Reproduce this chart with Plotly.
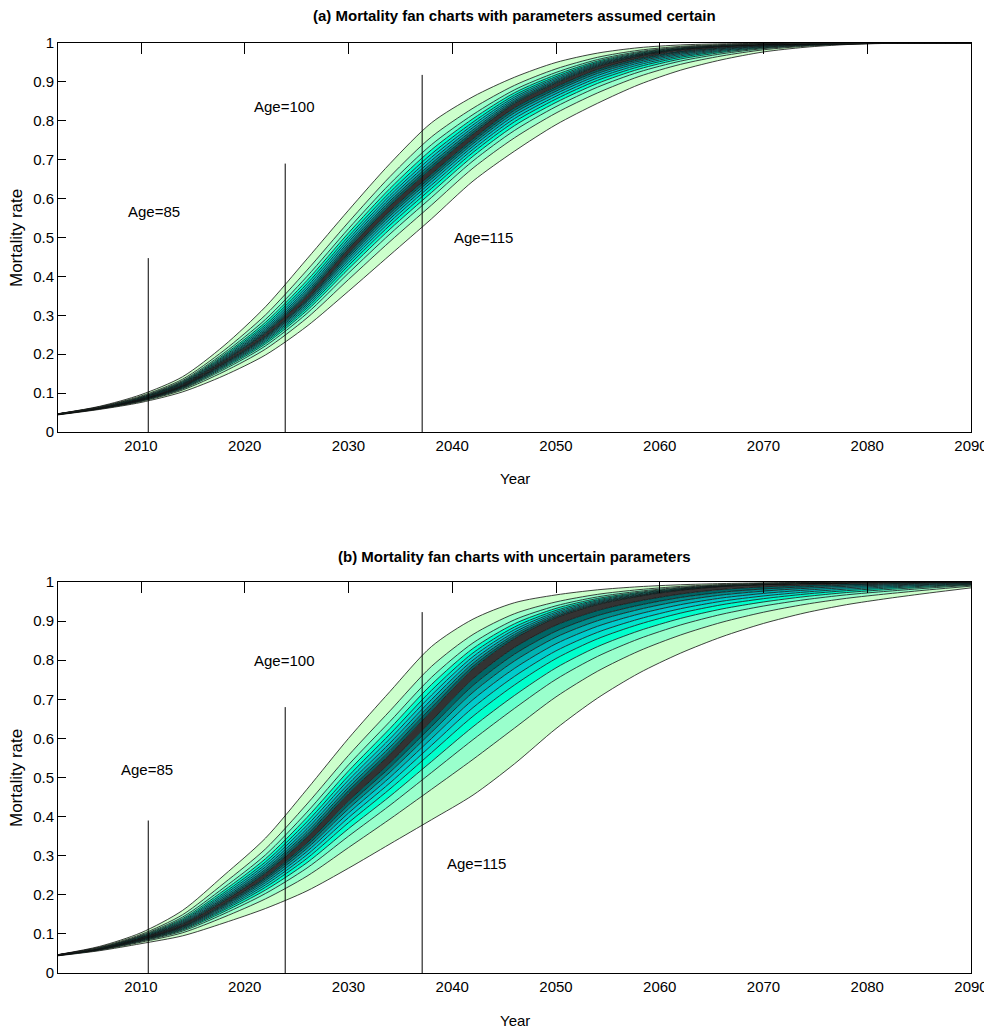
import plotly.graph_objects as go

# ---------------- data ----------------
years = [2002, 2006, 2010, 2014, 2018, 2022, 2026, 2030, 2034, 2038, 2042, 2046,
         2050, 2054, 2058, 2062, 2066, 2070, 2074, 2078, 2082, 2086, 2090]

# panel (a): parameters assumed certain
a_median = [0.046, 0.062, 0.084, 0.120, 0.180, 0.250, 0.345, 0.465, 0.575, 0.670, 0.760, 0.840,
            0.893, 0.937, 0.965, 0.982, 0.991, 0.996, 0.998, 0.999, 1.000, 1.000, 1.000]
a_upper = [0.047, 0.066, 0.096, 0.142, 0.222, 0.322, 0.445, 0.570, 0.690, 0.795, 0.862, 0.912,
           0.950, 0.974, 0.988, 0.995, 0.998, 0.999, 1.000, 1.000, 1.000, 1.000, 1.000]
a_lower = [0.044, 0.058, 0.076, 0.103, 0.145, 0.198, 0.272, 0.362, 0.455, 0.548, 0.645, 0.722,
           0.790, 0.845, 0.893, 0.930, 0.957, 0.977, 0.989, 0.996, 0.999, 1.000, 1.000]

# panel (b): uncertain parameters
b_median = [0.046, 0.062, 0.088, 0.122, 0.180, 0.250, 0.340, 0.450, 0.550, 0.660, 0.770, 0.850,
            0.905, 0.940, 0.962, 0.978, 0.988, 0.993, 0.996, 0.998, 0.999, 1.000, 1.000]
b_upper = [0.047, 0.068, 0.103, 0.160, 0.250, 0.345, 0.470, 0.600, 0.720, 0.835, 0.905, 0.947,
           0.967, 0.980, 0.988, 0.993, 0.996, 0.998, 0.999, 1.000, 1.000, 1.000, 1.000]
b_lower = [0.044, 0.057, 0.075, 0.095, 0.128, 0.165, 0.210, 0.268, 0.330, 0.392, 0.455, 0.535,
           0.625, 0.703, 0.767, 0.818, 0.860, 0.894, 0.921, 0.942, 0.958, 0.972, 0.985]

# relative position of each fan boundary between the median (0) and the outer edge (1)
band_fracs = [0.055, 0.11, 0.165, 0.225, 0.29, 0.36, 0.445, 0.55, 0.71, 1.00]
# band colours from the centre outwards (first = dark central band)
band_colors = ['#333333', '#006666', '#008c8c', '#00b3b3', '#00cccc', '#00e6cc',
               '#00ffcc', '#66ffcc', '#99ffcc', '#ccffcc']

x_ticks = [2010, 2020, 2030, 2040, 2050, 2060, 2070, 2080, 2090]
y_ticks = [0, 0.1, 0.2, 0.3, 0.4, 0.5, 0.6, 0.7, 0.8, 0.9, 1]
y_ticktext = ['0', '0.1', '0.2', '0.3', '0.4', '0.5', '0.6', '0.7', '0.8', '0.9', '1']

# vertical cohort markers: (year, top of line) per panel
a_markers = [(2010.7, 0.447), (2023.9, 0.690), (2037.1, 0.918)]
b_markers = [(2010.7, 0.390), (2023.9, 0.680), (2037.1, 0.923)]
# age labels: (text, year, value)
a_labels = [('Age=85', 2011.3, 0.567), ('Age=100', 2023.8, 0.836), ('Age=115', 2043.0, 0.499)]
b_labels = [('Age=85', 2010.6, 0.520), ('Age=100', 2023.8, 0.800), ('Age=115', 2042.3, 0.281)]

titles = ['(a) Mortality fan charts with parameters assumed certain',
          '(b) Mortality fan charts with uncertain parameters']

# ---------------- figure ----------------
FONT = 'Liberation Sans, Arial, sans-serif'
FS = 15
fig = go.Figure()


def add_fan(median, upper, lower, xa, ya):
    # boundaries from the lowest outer edge up to the highest outer edge
    lows = [[m + f * (l - m) for m, l in zip(median, lower)] for f in band_fracs]
    ups = [[m + f * (u - m) for m, u in zip(median, upper)] for f in band_fracs]
    bounds = lows[::-1] + ups
    n = len(band_fracs)
    fills = [band_colors[::-1][i] for i in range(n - 1)] + [band_colors[0]] + band_colors[1:]
    for i, b in enumerate(bounds):
        fig.add_trace(go.Scatter(
            x=years, y=b, mode='lines', xaxis=xa, yaxis=ya,
            line=dict(color='#111111', width=0.8, shape='spline', smoothing=0.8),
            fill=None if i == 0 else 'tonexty',
            fillcolor=None if i == 0 else fills[i - 1],
            showlegend=False, hoverinfo='skip'))


add_fan(a_median, a_upper, a_lower, 'x', 'y')
add_fan(b_median, b_upper, b_lower, 'x2', 'y2')

# invisible traces so that the top tick axes are drawn
for xa, ya in [('x3', 'y'), ('x4', 'y2')]:
    fig.add_trace(go.Scatter(x=[years[0]], y=[0], xaxis=xa, yaxis=ya, mode='markers',
                             marker=dict(opacity=0), showlegend=False, hoverinfo='skip'))

for markers, xr, yr in [(a_markers, 'x', 'y'), (b_markers, 'x2', 'y2')]:
    for yr_x, top in markers:
        fig.add_shape(type='line', xref=xr, yref=yr, x0=yr_x, x1=yr_x, y0=0, y1=top,
                      line=dict(color='black', width=1))

annotations = []
for labels, xr, yr in [(a_labels, 'x', 'y'), (b_labels, 'x2', 'y2')]:
    for t, xx, yy in labels:
        annotations.append(dict(text=t, x=xx, y=yy, xref=xr, yref=yr, showarrow=False,
                                font=dict(family=FONT, size=FS, color='black')))

# The page body adds an 8px margin, so the figure is 8px smaller than the window.
# Reference geometry (window pixels): plot x 58-971, panel a y 43-432, panel b y 582-973
W, H = 984, 1025
L, R, T, B = 50, 21, 35, 60
ph = H - T - B  # 930


def py(p):  # reference pixel row -> paper y
    return (973 - p) / ph


def px(p):  # reference pixel column -> paper x
    return (p - 58) / (W - L - R)


for t, yy in zip(titles, [15, 556]):
    annotations.append(dict(text='<b>' + t + '</b>', x=0.5, y=py(yy), xref='paper', yref='paper',
                            showarrow=False, yanchor='middle',
                            font=dict(family=FONT, size=15, color='black')))
for yy in [478, 1021]:
    annotations.append(dict(text='Year', x=0.5, y=py(yy), xref='paper', yref='paper',
                            showarrow=False, yanchor='middle',
                            font=dict(family=FONT, size=FS, color='black')))
for yy in [238, 778]:
    annotations.append(dict(text='Mortality rate', x=px(16), y=py(yy), xref='paper', yref='paper',
                            showarrow=False, textangle=-90, xanchor='center', yanchor='middle',
                            font=dict(family=FONT, size=17, color='black')))

dom_a = [py(432), 1.0]
dom_b = [0.0, py(582)]

xcommon = dict(range=[2002, 2090], tickvals=x_ticks, showgrid=False, zeroline=False,
               showline=True, linecolor='black', linewidth=1, mirror=True, ticks='',
               automargin=False, tickfont=dict(family=FONT, size=FS, color='black'))
ycommon = dict(range=[0, 1], tickvals=y_ticks, ticktext=y_ticktext, showgrid=False,
               zeroline=False, showline=True, linecolor='black', linewidth=1, mirror=True,
               ticks='inside', ticklen=8, tickcolor='black', automargin=False,
               tickfont=dict(family=FONT, size=FS, color='black'))
xtop = dict(range=[2002, 2090], tickvals=x_ticks, showgrid=False, zeroline=False,
            showline=False, ticks='inside', ticklen=11, tickcolor='black',
            showticklabels=False, side='top', automargin=False)

fig.update_layout(
    width=W, height=H, margin=dict(l=L, r=R, t=T, b=B, autoexpand=False),
    paper_bgcolor='white', plot_bgcolor='white', showlegend=False,
    xaxis=dict(domain=[0, 1], anchor='y', **xcommon),
    yaxis=dict(domain=dom_a, anchor='x', **ycommon),
    xaxis2=dict(domain=[0, 1], anchor='y2', **xcommon),
    yaxis2=dict(domain=dom_b, anchor='x2', **ycommon),
    xaxis3=dict(overlaying='x', anchor='y', **xtop),
    xaxis4=dict(overlaying='x2', anchor='y2', **xtop),
    annotations=annotations,
)

fig.write_html('out.html')
